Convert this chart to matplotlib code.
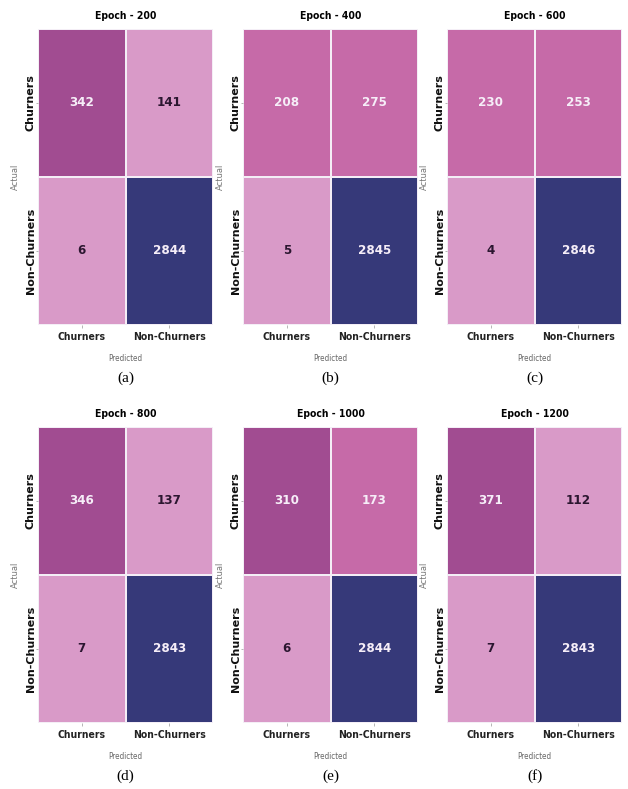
import numpy as np
import matplotlib
matplotlib.use("Agg")
import matplotlib.pyplot as plt
from matplotlib.colors import ListedColormap, BoundaryNorm

# Confusion matrices per training epoch
epochs = [200, 400, 600, 800, 1000, 1200]
panel_tags = ["(a)", "(b)", "(c)", "(d)", "(e)", "(f)"]
class_labels = ["Churners", "Non-Churners"]

cm_200 = [[342, 141], [6, 2844]]
cm_400 = [[208, 275], [5, 2845]]
cm_600 = [[230, 253], [4, 2846]]
cm_800 = [[346, 137], [7, 2843]]
cm_1000 = [[310, 173], [6, 2844]]
cm_1200 = [[371, 112], [7, 2843]]
matrices = [cm_200, cm_400, cm_600, cm_800, cm_1000, cm_1200]

# pink -> magenta -> navy palette, binned by count
cell_colors = ["#d99ac8", "#c66aa8", "#a14c91", "#363979"]
bounds = [0, 160, 300, 1000, 3000]
cmap = ListedColormap(cell_colors)
norm = BoundaryNorm(bounds, cmap.N)

narrow = dict(family="DejaVu Sans", stretch="condensed")

fig = plt.figure(figsize=(6.28, 7.89), dpi=100)

col_left = [38, 243, 447]
row_top = [29, 427]
cell_w, cell_h = 175, 296
W, H = 628, 789


def draw_matrix(ax, cm, epoch, tag):
    data = np.asarray(cm)
    ax.pcolormesh(
        data, cmap=cmap, norm=norm,
        edgecolors="#f4eef6", linewidth=1.2
    )
    ax.set_xlim(0, 2)
    ax.set_ylim(2, 0)

    for i in range(2):
        for j in range(2):
            v = data[i, j]
            txt_color = "#f6eef8" if v >= 160 else "#2b1630"
            ax.text(
                j + 0.5, i + 0.5, f"{v}",
                ha="center", va="center",
                fontsize=9.5, fontweight="bold",
                color=txt_color, **narrow
            )

    ax.set_xticks([0.5, 1.5])
    ax.set_xticklabels(class_labels, fontsize=7.5, fontweight="bold",
                       color="#222222", **narrow)
    ax.set_yticks([0.5, 1.5])
    ax.set_yticklabels(class_labels, fontsize=8, fontweight="bold",
                       rotation=90, va="center", color="#111111")
    ax.tick_params(axis="x", length=2, width=0.5, color="#999999", pad=3)
    ax.tick_params(axis="y", length=1.5, width=0.5, color="#999999", pad=0)

    for spine in ax.spines.values():
        spine.set_visible(False)

    ax.set_title(f"Epoch - {epoch}", fontsize=7.5, fontweight="bold",
                 pad=7, **narrow)
    ax.set_xlabel("Predicted", fontsize=5.8, color="#666666",
                  labelpad=9, **narrow)
    ax.set_ylabel("Actual", fontsize=6, color="#777777", labelpad=4)

    ax.text(0.5, -0.18, tag, transform=ax.transAxes,
            ha="center", va="center", fontsize=11,
            family="Liberation Serif")


k = 0
for r in range(2):
    for c in range(3):
        left = col_left[c] / W
        bottom = (H - row_top[r] - cell_h) / H
        ax = fig.add_axes([left, bottom, cell_w / W, cell_h / H])
        draw_matrix(ax, matrices[k], epochs[k], panel_tags[k])
        k += 1

fig.savefig("out.png", dpi=100, facecolor="white")
